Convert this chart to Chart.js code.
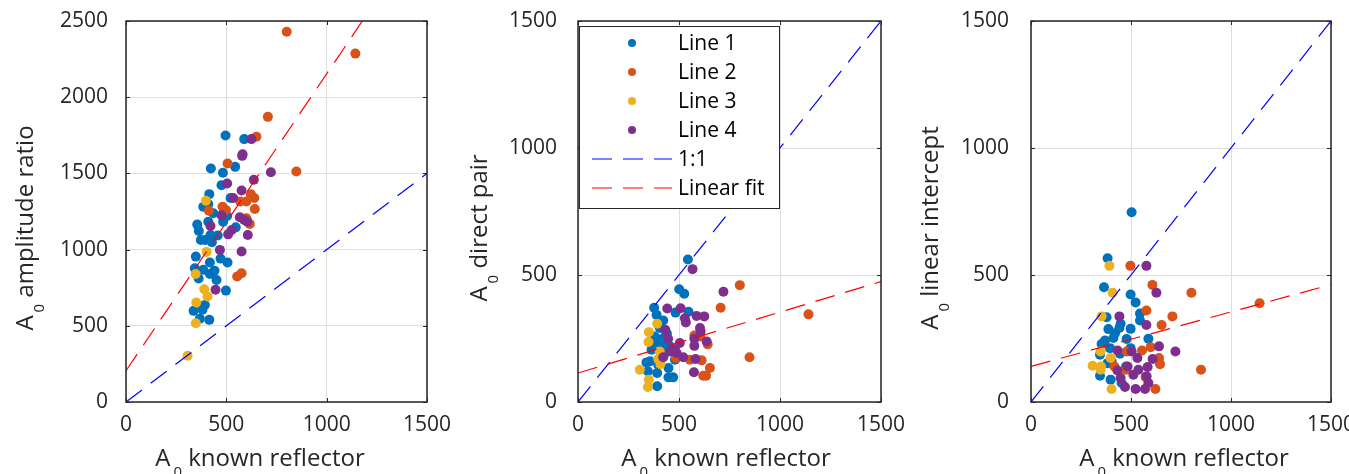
<!DOCTYPE html>
<html>
<head>
<meta charset="utf-8">
<script src="https://cdn.jsdelivr.net/npm/chart.js@4/dist/chart.umd.min.js"></script>
<style>
    body { margin: 0; background: #ffffff; }
    .panel { position: absolute; top: 0; }
</style>
</head>
<body>
<canvas id="chartRatio" class="panel" width="470" height="474" style="left:0px"></canvas>
<canvas id="chartDirect" class="panel" width="470" height="474" style="left:450px"></canvas>
<canvas id="chartIntercept" class="panel" width="449" height="474" style="left:900px"></canvas>
<script>
// ---- data ----
const seriesLabels = ['Line 1', 'Line 2', 'Line 3', 'Line 4'];
const xTicks = [0, 500, 1000, 1500];
const yTicksRatio = [0, 500, 1000, 1500, 2000, 2500];
const yTicksPair = [0, 500, 1000, 1500];

// Panel 1: A0 amplitude ratio
const ratioL1X = [496, 589, 423, 483, 544, 476, 415, 521, 385, 410, 435, 355, 410, 363, 504, 484, 547, 457, 373, 421, 395, 428, 348, 471, 418, 506, 343, 385, 441, 418, 362, 451, 498, 393, 381, 337, 368, 415];
const ratioL1Y = [1749, 1725, 1532, 1504, 1543, 1423, 1364, 1338, 1281, 1299, 1238, 1164, 1183, 1122, 1220, 1183, 1146, 1092, 1063, 1096, 1063, 1048, 954, 941, 915, 915, 878, 867, 862, 840, 810, 801, 731, 637, 605, 598, 546, 539];
const ratioL2X = [801, 1143, 707, 650, 506, 849, 622, 639, 600, 569, 642, 481, 498, 413, 600, 617, 554, 576];
const ratioL2Y = [2430, 2286, 1871, 1740, 1565, 1513, 1364, 1338, 1316, 1316, 1266, 1281, 1260, 1255, 1205, 1168, 823, 845];
const ratioL3X = [398, 402, 347, 390, 406, 350, 348, 307];
const ratioL3Y = [1321, 985, 840, 740, 692, 653, 517, 303];
const ratioL4X = [625, 581, 579, 504, 722, 637, 576, 534, 476, 421, 567, 589, 605, 527, 509, 607, 468, 576, 446];
const ratioL4Y = [1725, 1626, 1615, 1434, 1508, 1458, 1388, 1338, 1225, 1155, 1212, 1194, 1183, 1129, 1100, 1096, 998, 987, 736];
const ratioFitX = [0, 1178];
const ratioFitY = [205, 2500];

// Panel 2: A0 direct pair
const directL1X = [544, 501, 526, 377, 389, 483, 547, 422, 405, 380, 397, 430, 364, 413, 455, 356, 397, 339, 346, 392, 448, 448, 471, 392, 480, 430, 420, 440, 410, 370];
const directL1Y = [561, 444, 426, 371, 343, 352, 355, 321, 291, 258, 232, 238, 206, 206, 219, 160, 147, 156, 121, 114, 134, 97, 97, 62, 166, 193, 250, 270, 180, 230];
const directL2X = [801, 1141, 706, 849, 576, 642, 612, 554, 485, 653, 634, 620, 604];
const directL2Y = [460, 345, 371, 176, 262, 227, 164, 166, 173, 134, 103, 103, 258];
const directL3X = [392, 351, 349, 405, 397, 306, 408, 351, 346];
const directL3Y = [308, 275, 236, 199, 169, 127, 149, 88, 59];
const directL4X = [567, 720, 442, 508, 529, 534, 587, 625, 604, 607, 432, 446, 576, 637, 576, 504, 480, 455, 422, 521, 582, 574, 488];
const directL4Y = [523, 434, 368, 369, 330, 313, 339, 337, 291, 278, 284, 249, 249, 238, 221, 232, 206, 199, 176, 176, 169, 117, 193];
const directFitX = [0, 1500];
const directFitY = [114, 474];

// Panel 3: A0 linear intercept
const interL1X = [503, 383, 365, 498, 523, 545, 545, 378, 448, 442, 387, 498, 587, 420, 412, 370, 478, 353, 395, 498, 345, 445, 403, 475, 345, 398, 453, 383];
const interL1Y = [747, 566, 452, 423, 392, 348, 321, 334, 308, 291, 287, 288, 249, 271, 252, 242, 248, 228, 212, 212, 186, 190, 160, 140, 103, 88, 75, 153];
const interL2X = [497, 607, 802, 1143, 577, 707, 653, 598, 555, 478, 417, 640, 645, 850, 475, 573, 622];
const interL2Y = [536, 461, 430, 389, 360, 337, 303, 216, 203, 199, 140, 173, 149, 127, 127, 98, 51];
const interL3X = [392, 408, 353, 348, 398, 308, 350, 348, 403];
const interL3Y = [536, 430, 337, 199, 173, 143, 140, 127, 51];
const interL4X = [577, 627, 442, 577, 640, 722, 433, 503, 532, 608, 483, 432, 537, 583, 578, 512, 448, 587, 470, 523, 570];
const interL4Y = [536, 430, 337, 303, 219, 199, 203, 199, 173, 169, 140, 124, 127, 138, 101, 107, 94, 75, 59, 51, 51];
const interFitX = [0, 1500];
const interFitY = [140, 462];

// 1:1 reference line
const oneToOneX = [0, 1500];
const oneToOneY = [0, 1500];

// ---- styling ----
const FONT = '"Open Sans", "Noto Sans", sans-serif';
const TEXT_COLOR = '#262626';
const seriesColors = ['#0072BD', '#D95319', '#EDB120', '#7E2F8E'];
const DASH = [20, 11];

function toPoints(xs, ys) {
    return xs.map((x, i) => ({ x: x, y: ys[i] }));
}

function buildDatasets(seriesX, seriesY, fitX, fitY) {
    const sets = seriesX.map((xs, i) => ({
        label: seriesLabels[i],
        data: toPoints(xs, seriesY[i]),
        backgroundColor: seriesColors[i],
        borderWidth: 0,
        pointRadius: 5,
        order: 4 - i
    }));
    sets.push({
        label: '1:1',
        data: toPoints(oneToOneX, oneToOneY),
        showLine: true,
        borderColor: '#0000FF',
        borderWidth: 1.2,
        borderDash: DASH,
        pointRadius: 0,
        order: -1
    });
    sets.push({
        label: 'Linear fit',
        data: toPoints(fitX, fitY),
        showLine: true,
        borderColor: '#FF0000',
        borderWidth: 1.2,
        borderDash: DASH,
        pointRadius: 0,
        order: -2
    });
    return sets;
}

// Draw "A" + subscript "0" + rest, centred on (cx, cy)
function drawSubTitle(ctx, rest, cx, cy, rotate) {
    const mainFont = '24px ' + FONT;
    const subFont = '15px ' + FONT;
    ctx.save();
    ctx.translate(cx, cy);
    if (rotate) ctx.rotate(-Math.PI / 2);
    ctx.fillStyle = TEXT_COLOR;
    ctx.textBaseline = 'alphabetic';
    ctx.textAlign = 'left';
    ctx.font = mainFont;
    const wA = ctx.measureText('A').width;
    const wRest = ctx.measureText(rest).width;
    ctx.font = subFont;
    const wSub = ctx.measureText('0').width;
    const gap = 3;
    let x = -(wA + gap + wSub + wRest) / 2;
    ctx.font = mainFont;
    ctx.fillText('A', x, 0);
    x += wA + gap;
    ctx.font = subFont;
    ctx.fillText('0', x, 11);
    x += wSub;
    ctx.font = mainFont;
    ctx.fillText(rest, x, 0);
    ctx.restore();
}

// Box, inward ticks, titles and optional legend, MATLAB style
const matlabAxes = {
    id: 'matlabAxes',
    afterDatasetsDraw(chart, args, opts) {
        const ctx = chart.ctx;
        const area = chart.chartArea;
        const xs = chart.scales.x;
        const ys = chart.scales.y;
        ctx.save();
        ctx.strokeStyle = TEXT_COLOR;
        ctx.lineWidth = 1;
        ctx.beginPath();
        xs.ticks.forEach(t => {
            const px = Math.round(xs.getPixelForValue(t.value)) + 0.5;
            ctx.moveTo(px, area.bottom); ctx.lineTo(px, area.bottom - 4);
            ctx.moveTo(px, area.top); ctx.lineTo(px, area.top + 4);
        });
        ys.ticks.forEach(t => {
            const py = Math.round(ys.getPixelForValue(t.value)) + 0.5;
            ctx.moveTo(area.left, py); ctx.lineTo(area.left + 4, py);
            ctx.moveTo(area.right, py); ctx.lineTo(area.right - 4, py);
        });
        ctx.stroke();
        ctx.lineWidth = 1.5;
        ctx.strokeRect(area.left, area.top, area.right - area.left, area.bottom - area.top);
        ctx.restore();

        if (opts.legend) drawLegend(chart, opts.legend);

        drawSubTitle(ctx, ' known reflector', opts.xTitleX, 466, false);
        drawSubTitle(ctx, opts.yTitle, opts.yTitleX, 228, true);
    }
};

function drawLegend(chart, box) {
    const ctx = chart.ctx;
    const sets = chart.data.datasets;
    ctx.save();
    ctx.fillStyle = '#ffffff';
    ctx.fillRect(box.left, box.top, box.width, box.height);
    ctx.strokeStyle = TEXT_COLOR;
    ctx.lineWidth = 1;
    ctx.strokeRect(box.left + 0.5, box.top + 0.5, box.width, box.height);
    ctx.font = '21px ' + FONT;
    ctx.textBaseline = 'middle';
    ctx.textAlign = 'left';
    sets.forEach((ds, i) => {
        const y = box.top + 17 + i * 29;
        if (ds.showLine) {
            ctx.strokeStyle = ds.borderColor;
            ctx.lineWidth = 1.2;
            ctx.setLineDash(DASH);
            ctx.beginPath();
            ctx.moveTo(box.left + 13, y);
            ctx.lineTo(box.left + 93, y);
            ctx.stroke();
            ctx.setLineDash([]);
        } else {
            ctx.fillStyle = ds.backgroundColor;
            ctx.beginPath();
            ctx.arc(box.left + 53, y, 4, 0, Math.PI * 2);
            ctx.fill();
        }
        ctx.fillStyle = '#000000';
        ctx.fillText(ds.label, box.left + 99, y + 1);
    });
    ctx.restore();
}

function makeChart(canvasId, datasets, yMax, yTicks, layout, pluginOpts) {
    const ctx = document.getElementById(canvasId).getContext('2d');
    return new Chart(ctx, {
        type: 'scatter',
        data: { datasets: datasets },
        plugins: [matlabAxes],
        options: {
            responsive: false,
            animation: false,
            layout: { padding: { top: 21, right: layout.right, left: 0, bottom: 0 } },
            scales: {
                x: {
                    type: 'linear',
                    min: 0, max: 1500,
                    afterBuildTicks: s => { s.ticks = xTicks.map(v => ({ value: v })); },
                    afterFit: s => { s.height = 72; s.paddingLeft = 0; s.paddingRight = 0; },
                    grid: { color: '#dedede', lineWidth: 1, drawTicks: false },
                    border: { display: false },
                    ticks: { color: TEXT_COLOR, font: { family: FONT, size: 21 }, padding: 10, maxRotation: 0,
                             callback: v => String(v) }
                },
                y: {
                    type: 'linear',
                    min: 0, max: yMax,
                    afterBuildTicks: s => { s.ticks = yTicks.map(v => ({ value: v })); },
                    afterFit: s => { s.width = layout.yWidth; s.paddingTop = 0; s.paddingBottom = 0; },
                    grid: { color: '#dedede', lineWidth: 1, drawTicks: false },
                    border: { display: false },
                    ticks: { color: TEXT_COLOR, font: { family: FONT, size: 21 }, padding: layout.yPad,
                             callback: v => String(v) }
                }
            },
            plugins: {
                legend: { display: false },
                tooltip: { enabled: false },
                matlabAxes: pluginOpts
            }
        }
    });
}

makeChart('chartRatio',
    buildDatasets([ratioL1X, ratioL2X, ratioL3X, ratioL4X], [ratioL1Y, ratioL2Y, ratioL3Y, ratioL4Y], ratioFitX, ratioFitY),
    2500, yTicksRatio, { yWidth: 126, right: 43, yPad: 18 },
    { xTitleX: 260, yTitleX: 33, yTitle: ' amplitude ratio' });

makeChart('chartDirect',
    buildDatasets([directL1X, directL2X, directL3X, directL4X], [directL1Y, directL2Y, directL3Y, directL4Y], directFitX, directFitY),
    1500, yTicksPair, { yWidth: 128, right: 39, yPad: 21 },
    { xTitleX: 276, yTitleX: 37, yTitle: ' direct pair',
      legend: { left: 129, top: 26, width: 200, height: 182 } });

makeChart('chartIntercept',
    buildDatasets([interL1X, interL2X, interL3X, interL4X], [interL1Y, interL2Y, interL3Y, interL4Y], interFitX, interFitY),
    1500, yTicksPair, { yWidth: 131, right: 18, yPad: 22 },
    { xTitleX: 284, yTitleX: 38, yTitle: ' linear intercept' });
</script>
</body>
</html>
